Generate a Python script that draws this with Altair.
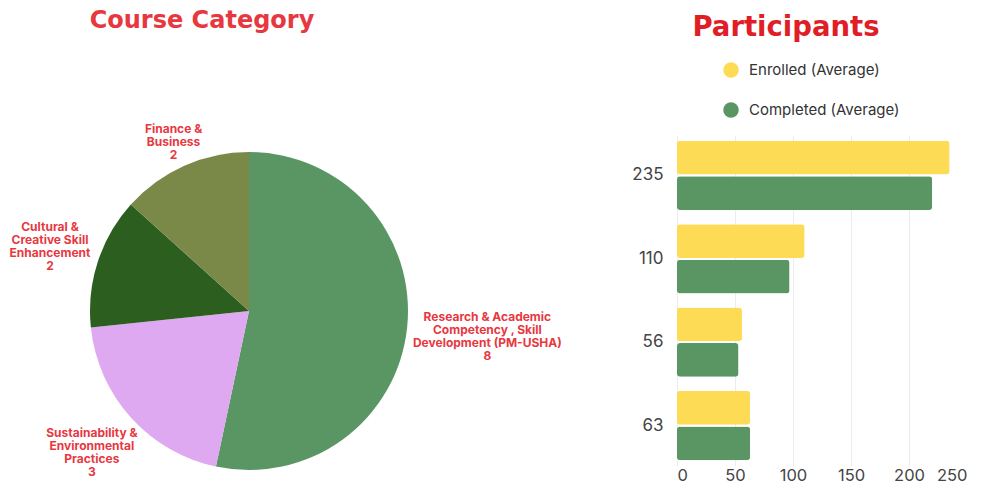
import math
import altair as alt
import pandas as pd

# ---------------- data ----------------
categories = [
    "Research & Academic\nCompetency , Skill\nDevelopment (PM-USHA)",
    "Sustainability &\nEnvironmental\nPractices",
    "Cultural &\nCreative Skill\nEnhancement",
    "Finance &\nBusiness",
]
counts = [8, 3, 2, 2]
pie_colors = ["#5a9664", "#dea9f0", "#2c5e1f", "#7a8848"]

groups = ["235", "110", "56", "63"]
enrolled = [235, 110, 56, 63]
completed = [220, 97, 53, 63]
series = ["Enrolled (Average)", "Completed (Average)"]
bar_colors = ["#fddb55", "#5a9664"]
x_ticks = [0, 50, 100, 150, 200, 250]

FONT = "Inter"
TITLE_FONT = "DejaVu Sans"
PIE_R = 159
LH = 13
CHAR_W = 7.2


def text_width(s):
    """Rough width estimate of a label line, in pixels."""
    w = 0.0
    for ch in s:
        if ch in "iltfrj .,()|'-":
            w += 0.55
        elif ch in "mwMW":
            w += 1.4
        elif ch.isupper():
            w += 1.2
        else:
            w += 1.0
    return w * CHAR_W


# ---------------- pie ----------------
# label anchor: slice mid-angle, pushed out by the label's half extents;
# Vega puts the first line at the anchor, so shift up by the block height
total = sum(counts)
pie_rows = []
cum = 0
for i, (cat, n) in enumerate(zip(categories, counts)):
    mid = (cum + n / 2) / total * 2 * math.pi
    cum += n
    lines = cat.split("\n") + [str(n)]
    half_w = 0.5 * max(text_width(s) for s in lines)
    half_h = 0.5 * (len(lines) - 1) * LH
    s, c = abs(math.sin(mid)), abs(math.cos(mid))
    lr = PIE_R + 6 * s + half_w * s + half_h * c
    cx, cy = lr * math.sin(mid), -lr * math.cos(mid)
    ay = cy - half_h
    pie_rows.append({"cat": cat, "count": n, "idx": i,
                     "label": "\n".join(lines),
                     "lr": math.hypot(cx, ay),
                     "lt": math.atan2(cx, -ay)})
pie_df = pd.DataFrame(pie_rows)

center = dict(x=alt.value(241), y=alt.value(176))

arcs = alt.Chart(pie_df).mark_arc(radius=PIE_R, stroke=None).encode(
    theta=alt.Theta("count:Q", stack=True,
                    scale=alt.Scale(domain=[0, total])),
    order=alt.Order("idx:Q"),
    color=alt.Color("cat:N", sort=categories,
                    scale=alt.Scale(domain=categories, range=pie_colors),
                    legend=None),
    **center,
)
labels = alt.Chart(pie_df).mark_text(
    align="center", baseline="middle", lineBreak="\n", fontSize=12,
    fontWeight="bold", font=FONT, color="#e8383f", lineHeight=LH,
).encode(
    theta=alt.Theta("lt:Q", stack=False, scale=None),
    radius=alt.Radius("lr:Q", scale=None),
    text="label:N",
    **center,
)
pie = alt.layer(arcs, labels).properties(
    width=590, height=331,
    title=alt.Title("Course Category", fontSize=24, font=TITLE_FONT,
                    fontWeight="bold", color="#e8383f", anchor="middle",
                    dx=-101, offset=90, frame="group"),
)

# ---------------- bars ----------------
bar_rows = []
for g, e, c in zip(groups, enrolled, completed):
    bar_rows.append({"group": g, "series": series[0], "value": e})
    bar_rows.append({"group": g, "series": series[1], "value": c})
bar_df = pd.DataFrame(bar_rows)

bars = alt.Chart(bar_df).mark_bar(cornerRadius=3).encode(
    x=alt.X("value:Q", scale=alt.Scale(domain=[0, 250], nice=False),
            axis=alt.Axis(values=x_ticks, title=None, domain=False,
                          ticks=False, grid=True, gridColor="#ececec",
                          labelFontSize=16.5, labelColor="#444",
                          labelFont=FONT, labelPadding=1)),
    y=alt.Y("group:N", sort=groups,
            scale=alt.Scale(paddingInner=0.17, paddingOuter=0.07),
            axis=alt.Axis(title=None, domain=False, ticks=False,
                          labelFontSize=17, labelColor="#444",
                          labelFont=FONT, labelPadding=14)),
    yOffset=alt.YOffset("series:N", sort=series,
                        scale=alt.Scale(paddingInner=0.05)),
    color=alt.Color("series:N", sort=series,
                    scale=alt.Scale(domain=series, range=bar_colors),
                    legend=alt.Legend(title=None, orient="none",
                                      legendX=46, legendY=-73,
                                      symbolType="circle", symbolSize=240,
                                      symbolStrokeWidth=0,
                                      labelFontSize=15, labelFont=FONT,
                                      labelColor="#333", labelOffset=10,
                                      rowPadding=24, padding=0)),
).properties(
    width=290, height=331,
    title=alt.Title("Participants", fontSize=27.5, font=TITLE_FONT,
                    fontWeight="bold", color="#e11d26", anchor="middle",
                    dx=-36, offset=21, frame="group"),
)

chart = alt.hconcat(pie, bars, spacing=33).resolve_scale(
    color="independent"
).properties(
    padding={"left": 0, "right": 0, "top": 0, "bottom": 0}
).configure_view(stroke=None)

chart.save("out.html", embed_options={"renderer": "svg", "actions": False})
